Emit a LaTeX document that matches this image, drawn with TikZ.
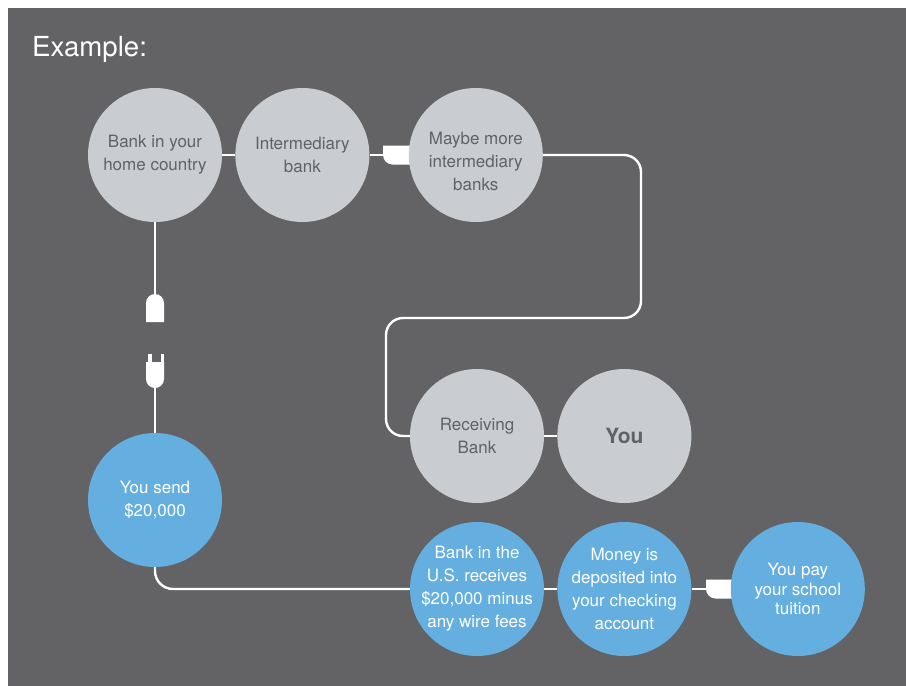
\documentclass[tikz,border=0pt]{standalone}
\usepackage{fontspec}
\setmainfont{TeX Gyre Heros}
\usetikzlibrary{positioning}
\definecolor{slate}{HTML}{636365}
\definecolor{mist}{HTML}{C9CDD1}
\definecolor{sky}{HTML}{64AEE0}
\definecolor{ink}{HTML}{616265}
\pgfdeclarelayer{paper}
\pgfdeclarelayer{wires}
\pgfsetlayers{paper,wires,main}
\tikzset{
  bubble/.style={circle, minimum size=134pt, inner sep=-40pt, align=center,
    font=\fontsize{17}{23}\selectfont},
  greybubble/.style={bubble, fill=mist, text=ink},
  bluebubble/.style={bubble, fill=sky, text=white},
  wire/.style={draw=white, line width=2.4pt},
  plugbody/.style={fill=white}
}
\begin{document}
\begin{tikzpicture}[x=1pt, y=-1pt]
  \useasboundingbox (0,0) rectangle (906,686);
  \begin{pgfonlayer}{paper}
    \fill[slate] (8,8) rectangle (906,686); %
  \end{pgfonlayer}
  \node[anchor=base west, inner sep=0pt, text=white, font=\fontsize{27.6}{30}\selectfont] (title) at (32,56) {Example:};
  % top row
  \node[greybubble] (home) at (155,155) {Bank in your\\home country};
  \node[greybubble, right=13pt of home] (inter) {Intermediary\\bank};
  \node[greybubble, right=39pt of inter, text height=72pt] (more) {Maybe more\\intermediary\\banks};
  % middle row
  \node[greybubble] (recv) at (477,436) {Receiving\\Bank};
  \node[greybubble, right=13pt of recv, font=\bfseries\fontsize{21}{24}\selectfont] (you) {You};
  % blue path
  \node[bluebubble] (send) at (155,500) {You send\\\$20,000};
  \node[bluebubble] (usbank) at (477,589) {Bank in the\\U.S. receives\\\$20,000 minus\\any wire fees};
  \node[bluebubble, right=13pt of usbank] (money) {Money is\\deposited into\\your checking\\account};
  \node[bluebubble, right=39pt of money, font=\fontsize{17}{19.5}\selectfont] (tuition) {You pay\\your school\\tuition};
  % wires and plugs
  \coordinate (plugA) at (383,155);
  \coordinate (plugB) at (706,589);
  \coordinate (sockTop) at (155,294);
  \coordinate (prongEnd) at (155,388);
  \coordinate (bendR) at (641,318);
  \coordinate (bendL) at (386,318);
  \begin{pgfonlayer}{wires}
    \draw[wire] (home.east) -- (inter.west);
    \draw[wire] (inter.east) -- (plugA);
    \draw[wire, rounded corners=17pt] (more.east) -| (bendR) -- (bendL) |- (recv.west);
    \draw[wire] (recv.east) -- (you.west);
    \draw[wire] (home.south) -- (sockTop);
    \draw[wire] (prongEnd) -- (send.north);
    \draw[wire, rounded corners=18pt] (send.south) |- (usbank.west);
    \draw[wire] (usbank.east) -- (money.west);
    \draw[wire] (money.east) -- (plugB);
    % socket, rounded on top
    \fill[plugbody] (146,322) [rounded corners=9pt] -- (146,294) -- (164,294) [sharp corners] -- (164,322) -- cycle;
    % plug with two prongs, rounded at the bottom
    \fill[plugbody] (148,354) rectangle (151.5,363);
    \fill[plugbody] (160.5,354) rectangle (164,363);
    \fill[plugbody] (146,362) -- (164,362) [rounded corners=9pt] -- (164,388) -- (146,388) [sharp corners] -- cycle;
    % sideways sockets
    \fill[plugbody] (412,145.5) -- (383,145.5) [rounded corners=9.5pt] -- (383,164.5) [sharp corners] -- (412,164.5) -- cycle;
    \fill[plugbody] (735,579.5) -- (706,579.5) [rounded corners=9.5pt] -- (706,598.5) [sharp corners] -- (735,598.5) -- cycle;
  \end{pgfonlayer}
\end{tikzpicture}
\end{document}
